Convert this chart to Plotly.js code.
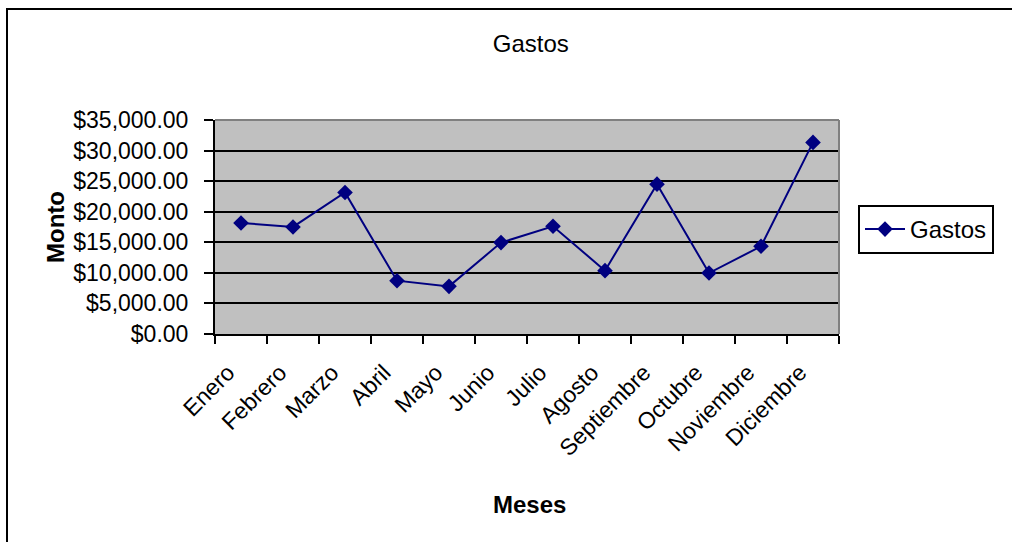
<!DOCTYPE html>
<html>
<head>
<meta charset="utf-8">
<script src="https://cdn.plot.ly/plotly-3.0.1.min.js"></script>
<style>html,body{margin:0;padding:0;background:#fff;}#chart{width:1012px;height:542px;}</style>
</head>
<body>
<div id="chart"></div>
<script>
const meses = ["Enero","Febrero","Marzo","Abril","Mayo","Junio","Julio","Agosto","Septiembre","Octubre","Noviembre","Diciembre"];
const gastos = [18160, 17510, 23150, 8720, 7790, 14950, 17620, 10360, 24510, 9970, 14340, 31340];
const yTicks = [0, 5000, 10000, 15000, 20000, 25000, 30000, 35000];

const FONT = "Liberation Sans, Arial, sans-serif";

const trace = {
  type: "scatter",
  mode: "lines+markers",
  name: "Gastos",
  x: meses,
  y: gastos,
  line: {color: "#000080", width: 2},
  marker: {symbol: "diamond", size: 12, color: "#000080"}
};

const layout = {
  width: 1012,
  height: 542,
  margin: {l: 215, r: 173, t: 120, b: 208, pad: 0},
  paper_bgcolor: "#ffffff",
  plot_bgcolor: "#c0c0c0",
  font: {family: FONT, color: "#000", size: 24},
  showlegend: true,
  title: {
    text: "Gastos",
    font: {family: FONT, size: 24, color: "#000"},
    x: 0.506, xref: "paper", xanchor: "center",
    y: 1 - 44/542, yref: "container", yanchor: "middle"
  },
  xaxis: {
    type: "category",
    tickson: "boundaries",
    ticks: "outside",
    ticklen: 8,
    tickwidth: 2,
    tickcolor: "#000",
    showline: true,
    linecolor: "#000",
    linewidth: 2,
    showgrid: false,
    zeroline: false,
    tickangle: -45,
    tickfont: {family: FONT, size: 23, color: "#000"},
    ticklabelstandoff: 14,
    ticklabelshift: -13,
    range: [-0.5, 11.5],
    fixedrange: true
  },
  yaxis: {
    range: [0, 35000],
    tickvals: yTicks,
    tickformat: "$,.2f",
    ticks: "outside",
    ticklen: 9,
    tickwidth: 2,
    tickcolor: "#000",
    showline: true,
    linecolor: "#000",
    linewidth: 2,
    showgrid: true,
    gridcolor: "#000",
    gridwidth: 2,
    zeroline: false,
    tickfont: {family: FONT, size: 23, color: "#000"},
    ticklabelstandoff: 11,
    fixedrange: true
  },
  legend: {
    x: (858 - 215) / 624,
    y: (334 - 205) / 214,
    xanchor: "left",
    yanchor: "top",
    bgcolor: "#ffffff",
    bordercolor: "#000",
    borderwidth: 2,
    font: {family: FONT, size: 24, color: "#000"},
    itemwidth: 40
  },
  annotations: [
    {
      text: "<b>Monto</b>",
      xref: "paper", yref: "paper",
      x: (55 - 215) / 624, y: (334 - 227) / 214,
      xanchor: "center", yanchor: "middle",
      textangle: -90, showarrow: false,
      font: {family: FONT, size: 24, color: "#000"}
    },
    {
      text: "<b>Meses</b>",
      xref: "paper", yref: "paper",
      x: (529 - 215) / 624, y: (334 - 504) / 214,
      xanchor: "center", yanchor: "middle",
      showarrow: false,
      font: {family: FONT, size: 24, color: "#000"}
    }
  ],
  shapes: [
    {type: "line", xref: "paper", yref: "paper", x0: 0, x1: 1, y0: 1, y1: 1, line: {color: "#808080", width: 2}},
    {type: "line", xref: "paper", yref: "paper", x0: 1, x1: 1, y0: 0, y1: 1, line: {color: "#808080", width: 2}},
    {type: "rect", xref: "paper", yref: "paper",
     x0: (7 - 215) / 624, x1: (1030 - 215) / 624,
     y0: (334 - 9) / 214, y1: (334 - 570) / 214,
     line: {color: "#000", width: 2}, fillcolor: "rgba(0,0,0,0)"}
  ]
};

Plotly.newPlot("chart", [trace], layout, {displayModeBar: false, staticPlot: true});
</script>
</body>
</html>
